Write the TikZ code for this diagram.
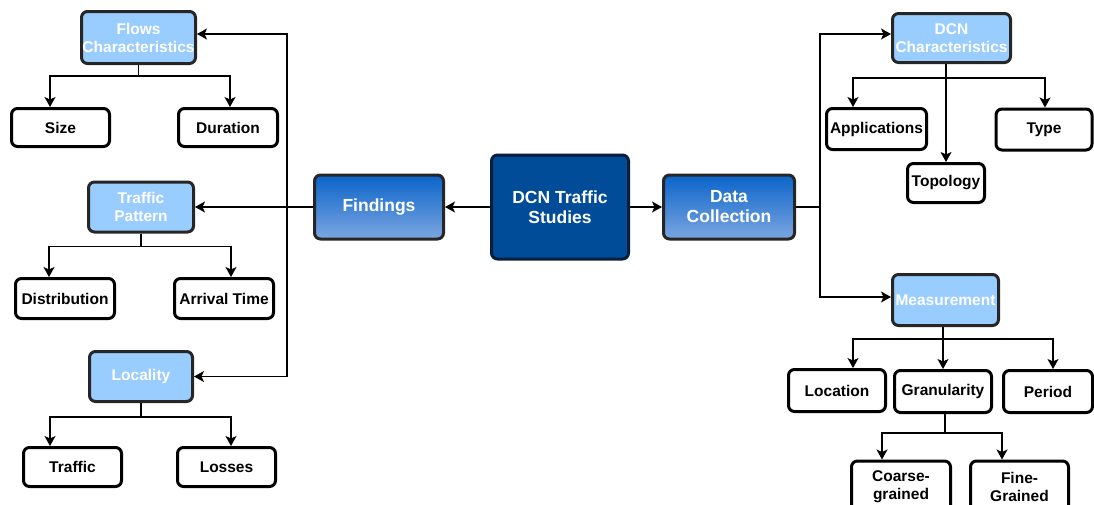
\documentclass[tikz,border=0pt]{standalone}
\usepackage{fontspec}
\setmainfont{Liberation Sans}
\usetikzlibrary{arrows.meta}
\definecolor{catblue}{HTML}{99CCFF}
\definecolor{gradtop}{HTML}{0A64CA}
\definecolor{gradbot}{HTML}{7CA6E0}
\definecolor{corefill}{HTML}{004C99}
\definecolor{coreline}{HTML}{0A1D3A}
\begin{document}
\begin{tikzpicture}[x=1pt,y=-1pt,
	box/.style={draw=black,line width=3pt,rounded corners=6pt,inner sep=0pt,align=center,font=\fontsize{15.5}{18}\selectfont\bfseries},
	leaf/.style={box,fill=white},
	cat/.style={box,draw=black!85,fill=catblue,text=white},
	branch/.style={box,draw=black!85,top color=gradtop,bottom color=gradbot,text=white,font=\fontsize{17.5}{20}\selectfont\bfseries},
	core/.style={box,draw=coreline,fill=corefill,text=white,font=\fontsize{17.5}{20}\selectfont\bfseries},
	link/.style={line width=1.1pt,-{Stealth[length=10pt,width=11pt,inset=2.5pt]}},
	wire/.style={line width=1.1pt}]
		\useasboundingbox (0,0) rectangle (1094,504);
		%centre
		\node[core,minimum width=137pt,minimum height=104pt] (studies) at (560,207) {DCN Traffic\\Studies};
		\node[branch,minimum width=129pt,minimum height=64pt] (findings) at (379,207) {Findings};
		\node[branch,minimum width=131pt,minimum height=64pt] (collection) at (729,207) {Data\\Collection};
		\draw[link] (studies.west) -- (findings.east);
		\draw[link] (studies.east) -- (collection.west);
		%findings side
		\node[cat,minimum width=114pt,minimum height=52pt] (flows) at (138.5,37.5) {Flows\\Characteristics};
		\node[leaf,minimum width=98pt,minimum height=38pt] (size) at (60.5,127.5) {Size};
		\node[leaf,minimum width=99pt,minimum height=38pt] (duration) at (228,127.5) {Duration};
		\node[cat,minimum width=105pt,minimum height=50pt] (pattern) at (141,207) {Traffic\\Pattern};
		\node[leaf,minimum width=99pt,minimum height=40pt] (distrib) at (65,298.5) {Distribution};
		\node[leaf,minimum width=99pt,minimum height=40pt] (arrival) at (224,298.5) {Arrival Time};
		\node[cat,minimum width=103pt,minimum height=50pt] (locality) at (141,376.5) {Locality};
		\node[leaf,minimum width=98pt,minimum height=39pt] (traffic) at (72.5,467) {Traffic};
		\node[leaf,minimum width=98pt,minimum height=39pt] (losses) at (226.5,467) {Losses};
		\coordinate (fj) at (287,207);
		\draw[link] (findings.west) -- (pattern.east);
		\draw[link] (fj) |- ([yshift=3.5pt]flows.east);
		\draw[link] (fj) |- (locality.east);
		\draw[link] (flows.south) -- ++(0,11) -| ([xshift=-10.5pt]size.north);
		\draw[link] (flows.south) -- ++(0,11) -| ([xshift=2pt]duration.north);
		\draw[link] (pattern.south) -- ++(0,13) -| ([xshift=-16pt]distrib.north);
		\draw[link] (pattern.south) -- ++(0,13) -| ([xshift=7pt]arrival.north);
		\draw[link] (locality.south) -- ++(0,14) -| ([xshift=-22.5pt]traffic.north);
		\draw[link] (locality.south) -- ++(0,14) -| ([xshift=4.5pt]losses.north);
		%collection side
		\node[cat,minimum width=118pt,minimum height=49pt] (dcnchar) at (951.5,38) {DCN\\Characteristics};
		\node[leaf,minimum width=100pt,minimum height=41pt] (apps) at (876.5,129) {Applications};
		\node[leaf,minimum width=96pt,minimum height=41pt] (type) at (1044,129.5) {Type};
		\node[leaf,minimum width=77pt,minimum height=39pt] (topology) at (946,183) {Topology};
		\node[cat,minimum width=106pt,minimum height=51pt] (measure) at (945.5,300) {Measurement};
		\node[leaf,minimum width=97pt,minimum height=42pt] (location) at (837,390.5) {Location};
		\node[leaf,minimum width=97pt,minimum height=42pt] (granul) at (943,391.5) {Granularity};
		\node[leaf,minimum width=89pt,minimum height=42pt] (period) at (1048,391.5) {Period};
		\node[leaf,minimum width=99pt,minimum height=52pt] (coarse) at (901,487) {Coarse-\\grained};
		\node[leaf,minimum width=98pt,minimum height=52pt] (fine) at (1019.5,487) {Fine-\\Grained};
		\coordinate (cj) at (820,207);
		\draw[wire] (collection.east) -- (cj);
		\draw[link] (cj) |- ([yshift=4pt]dcnchar.west);
		\draw[link] (cj) |- ([yshift=3pt]measure.west);
		\draw[link] ([xshift=-5.5pt]dcnchar.south) -- ++(0,14) -| ([xshift=-23.5pt]apps.north);
		\draw[link] ([xshift=-5.5pt]dcnchar.south) -- ++(0,14) -| ([xshift=1pt]type.north);
		\draw[link] ([xshift=-5.5pt]dcnchar.south) -- (topology.north);
		\draw[link] ([xshift=-2.5pt]measure.south) -- ++(0,12) -| ([xshift=16pt]location.north);
		\draw[link] ([xshift=-2.5pt]measure.south) -- ++(0,12) -| ([xshift=5pt]period.north);
		\draw[link] ([xshift=-2.5pt]measure.south) -- (granul.north);
		\draw[link] ([xshift=2pt]granul.south) -- ++(0,19) -| ([xshift=-19pt]coarse.north);
		\draw[link] ([xshift=2pt]granul.south) -- ++(0,19) -| ([xshift=-17.5pt]fine.north);
\end{tikzpicture}
\end{document}
